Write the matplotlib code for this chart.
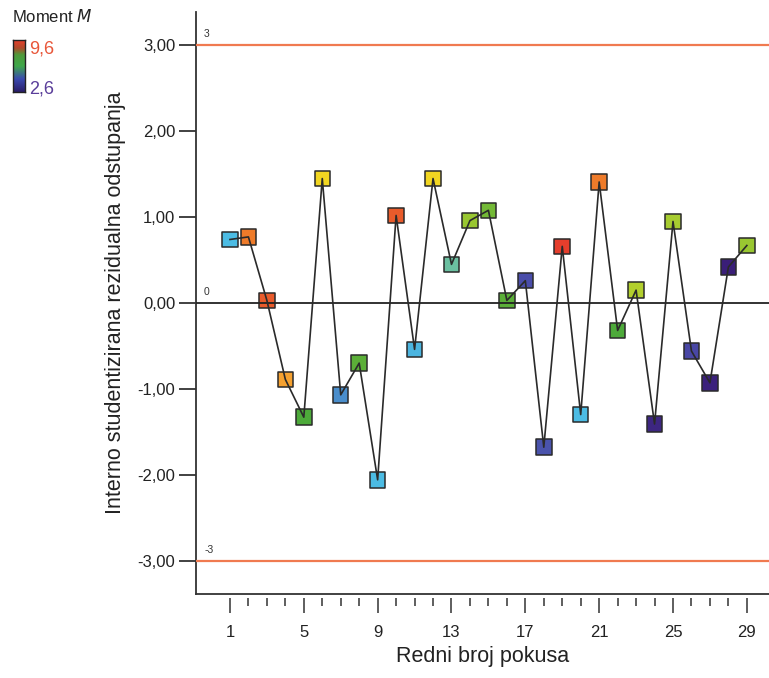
import numpy as np
import matplotlib
matplotlib.use("Agg")
import matplotlib.pyplot as plt
from matplotlib.colors import LinearSegmentedColormap, Normalize

plt.rcParams['font.family'] = ['Liberation Sans', 'DejaVu Sans']

# ---- data ----
run = list(range(1, 30))
residual = [0.74, 0.77, 0.03, -0.89, -1.33, 1.45, -1.07, -0.70, -2.06, 1.02,
            -0.54, 1.45, 0.45, 0.96, 1.08, 0.03, 0.26, -1.68, 0.66, -1.30,
            1.41, -0.32, 0.15, -1.41, 0.95, -0.56, -0.93, 0.42, 0.67]
moment = [5.4, 9.0, 9.3, 8.6, 6.8, 8.1, 4.7, 6.9, 5.4, 9.3,
          5.3, 8.1, 6.1, 7.4, 7.1, 6.9, 3.7, 3.8, 9.6, 5.4,
          9.0, 6.8, 7.6, 2.8, 7.5, 3.6, 2.7, 2.6, 7.4]
limits = [3, 0, -3]
limit_labels = ["3", "0", "-3"]
yticks = [3, 2, 1, 0, -1, -2, -3]
ytick_labels = ["3,00", "2,00", "1,00", "0,00", "-1,00", "-2,00", "-3,00"]
xticks_major = [1, 5, 9, 13, 17, 21, 25, 29]
m_min, m_max = 2.6, 9.6
m_labels = ["9,6", "2,6"]

cmap = LinearSegmentedColormap.from_list("moment", [
    (0.00, "#3A1E78"), (0.15, "#4A4AA8"), (0.30, "#4A8FCC"), (0.40, "#4CBCE4"),
    (0.50, "#6CC0A0"), (0.60, "#4DAA3A"), (0.70, "#A5CC30"), (0.78, "#F2DC1F"),
    (0.86, "#F5A030"), (0.92, "#EE7A2A"), (1.00, "#E53E2C")])
legend_cmap = LinearSegmentedColormap.from_list("legend", [
    (0.00, "#2A1E6A"), (0.25, "#3A4AB0"), (0.50, "#3FA84A"), (0.72, "#4E9A3A"),
    (0.85, "#B04A2A"), (1.00, "#E5402C")])
norm = Normalize(m_min, m_max)

fig = plt.figure(figsize=(7.69, 6.78), dpi=100)
ax = fig.add_axes([196/769, 84/678, 1 - 196/769, (594-12)/678])

ax.set_xlim(-0.84, 30.2)
ax.set_ylim(-3.39, 3.39)

# limit lines
for v, lab in zip(limits, limit_labels):
    col = "#F07A50" if v != 0 else "#222222"
    lw = 1.6 if v != 0 else 1.3
    ax.axhline(v, color=col, lw=lw, zorder=4)
    ax.text(-0.4, v + 0.07, lab, fontsize=7.5, color="#333333", ha="left", va="bottom")

ax.scatter(run, residual, c=moment, cmap=cmap, norm=norm, marker="s", s=125,
           edgecolors="#2a2a2a", linewidths=1.1, zorder=3)
ax.plot(run, residual, color="#2a2a2a", lw=1.2, zorder=5)

# spines
for s in ["top", "right"]:
    ax.spines[s].set_visible(False)
ax.spines["left"].set_color("#333333")
ax.spines["left"].set_linewidth(1.3)
ax.spines["bottom"].set_visible(False)
ax.spines["bottom"].set_position(("outward", 3))
ax.plot([0, 1], [0, 0], transform=ax.transAxes, color="#333333", lw=1.3, clip_on=False, zorder=6)

ax.set_yticks(yticks)
ax.set_yticklabels(ytick_labels)
ax.tick_params(axis="y", direction="out", length=12, width=1.3, color="#333333",
               labelsize=12, labelcolor="#222222", pad=3)

ax.set_xticks(xticks_major)
ax.set_xticks(run, minor=True)
ax.tick_params(axis="x", which="major", direction="out", length=10.5, width=1.1,
               color="#333333", labelsize=12, labelcolor="#222222", pad=9)
ax.tick_params(axis="x", which="minor", direction="out", length=5.5, width=1.1,
               color="#333333")

ax.set_xlabel("Redni broj pokusa", fontsize=15.5, color="#222222", labelpad=4)
ax.set_ylabel("Interno studentizirana rezidualna odstupanja", fontsize=15.5,
              color="#222222", labelpad=8)

# small colour legend
fig.text(12/769, 1 - 17/678, "Moment $\\mathit{M}$", fontsize=12, color="#222222",
         ha="left", va="center")
cax = fig.add_axes([13/769, 1 - 92/678, 12/769, 52/678])
grad = np.linspace(1, 0, 100).reshape(-1, 1)
cax.imshow(grad, aspect="auto", cmap=legend_cmap, extent=[0, 1, 0, 1])
cax.set_xticks([])
cax.set_yticks([])
for sp in cax.spines.values():
    sp.set_linewidth(1.0)
    sp.set_color("#222222")
fig.text(29/769, 1 - 49/678, m_labels[0], fontsize=13, color="#E8573A",
         ha="left", va="center")
fig.text(29/769, 1 - 89/678, m_labels[1], fontsize=13, color="#5A3E9A", ha="left", va="center")

fig.savefig("out.png", dpi=100)
